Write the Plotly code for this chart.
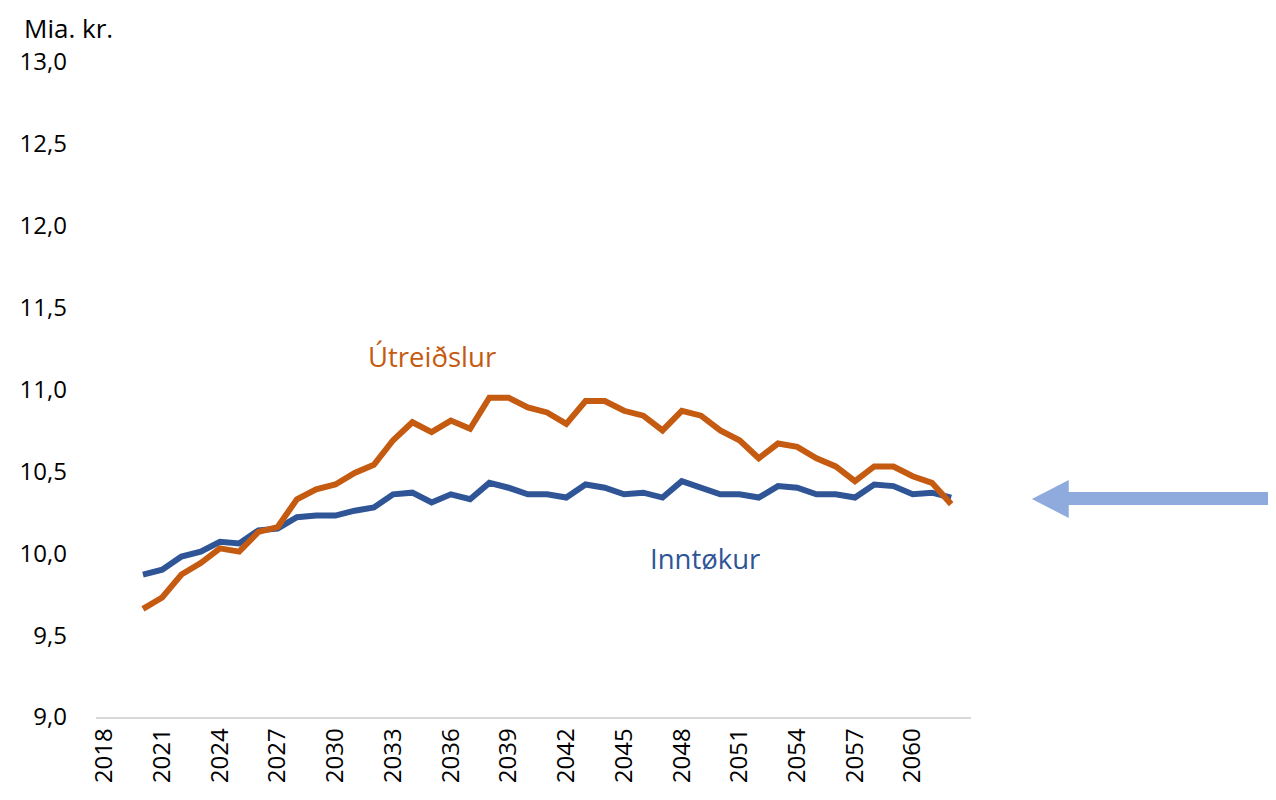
import plotly.graph_objects as go

years = list(range(2020, 2063))
utreidslur = [9.66, 9.73, 9.87, 9.94, 10.03, 10.01, 10.13, 10.16, 10.33, 10.39,
              10.42, 10.49, 10.54, 10.69, 10.80, 10.74, 10.81, 10.76, 10.95, 10.95,
              10.89, 10.86, 10.79, 10.93, 10.93, 10.87, 10.84, 10.75, 10.87, 10.84,
              10.75, 10.69, 10.58, 10.67, 10.65, 10.58, 10.53, 10.44, 10.53, 10.53,
              10.47, 10.43, 10.30]
inntokur = [9.87, 9.90, 9.98, 10.01, 10.07, 10.06, 10.14, 10.15, 10.22, 10.23,
            10.23, 10.26, 10.28, 10.36, 10.37, 10.31, 10.36, 10.33, 10.43, 10.40,
            10.36, 10.36, 10.34, 10.42, 10.40, 10.36, 10.37, 10.34, 10.44, 10.40,
            10.36, 10.36, 10.34, 10.41, 10.40, 10.36, 10.36, 10.34, 10.42, 10.41,
            10.36, 10.37, 10.34]
x_ticks = list(range(2018, 2061, 3))
y_ticks = [9.0, 9.5, 10.0, 10.5, 11.0, 11.5, 12.0, 12.5, 13.0]
y_tick_text = [f"{v:.1f}".replace(".", ",") for v in y_ticks]

ORANGE = "#C55A11"
BLUE = "#2F5597"
ARROW = "#8FAADC"
FONT = "Open Sans"

fig = go.Figure()
fig.add_trace(go.Scatter(x=years, y=inntokur, mode="lines", name="Inntøkur",
                         line=dict(color=BLUE, width=6)))
fig.add_trace(go.Scatter(x=years, y=utreidslur, mode="lines", name="Útreiðslur",
                         line=dict(color=ORANGE, width=6)))

# page has an 8px body margin, so offsets are in page pixels minus 8
OFF = 8
L, R, T, B = 94 - OFF, 971 - OFF, 62 - OFF, 717 - OFF
W, H = 1276, 800

def px(x):
    return (x - OFF - L) / (R - L)

def py(y):
    return (B - (y - OFF)) / (B - T)

# arrow on the right
fig.add_shape(type="rect", xref="paper", yref="paper",
              x0=px(1066), x1=px(1300), y0=py(505), y1=py(492),
              fillcolor=ARROW, line=dict(width=0))
fig.add_shape(type="path", xref="paper", yref="paper",
              path=f"M {px(1032)} {py(499)} L {px(1069)} {py(480)} L {px(1069)} {py(518)} Z",
              fillcolor=ARROW, line=dict(width=0))

fig.add_annotation(x=2035.0, y=11.20, text="Útreiðslur", showarrow=False,
                   font=dict(family=FONT, size=27.5, color=ORANGE))
fig.add_annotation(x=2049.2, y=9.97, text="Inntøkur", showarrow=False,
                   font=dict(family=FONT, size=27.5, color=BLUE))
fig.add_annotation(xref="paper", yref="paper", x=px(21), y=py(OFF + 1), xanchor="left",
                   yanchor="top", borderpad=0, text="Mia. kr.", showarrow=False,
                   font=dict(family=FONT, size=26, color="#000000"))

fig.update_layout(
    width=W, height=H,
    margin=dict(l=L, r=W - R, t=T, b=H - B),
    paper_bgcolor="white", plot_bgcolor="white",
    showlegend=False,
    font=dict(family=FONT, size=24, color="#000000"),
)
fig.update_xaxes(range=[2017.56, 2063.03], tickmode="array", tickvals=x_ticks,
                 ticktext=[str(v) for v in x_ticks], tickangle=-90,
                 showgrid=False, zeroline=False, showline=True,
                 linecolor="#D9D9D9", linewidth=1.5, ticks="",
                 tickfont=dict(family=FONT, size=24, color="#000000"))
fig.update_yaxes(range=[9.0, 13.0], tickmode="array", tickvals=y_ticks,
                 ticktext=y_tick_text, showgrid=False, zeroline=False,
                 showline=False, ticks="", ticklabelstandoff=28,
                 tickfont=dict(family=FONT, size=24, color="#000000"))

fig.write_html("out.html")
